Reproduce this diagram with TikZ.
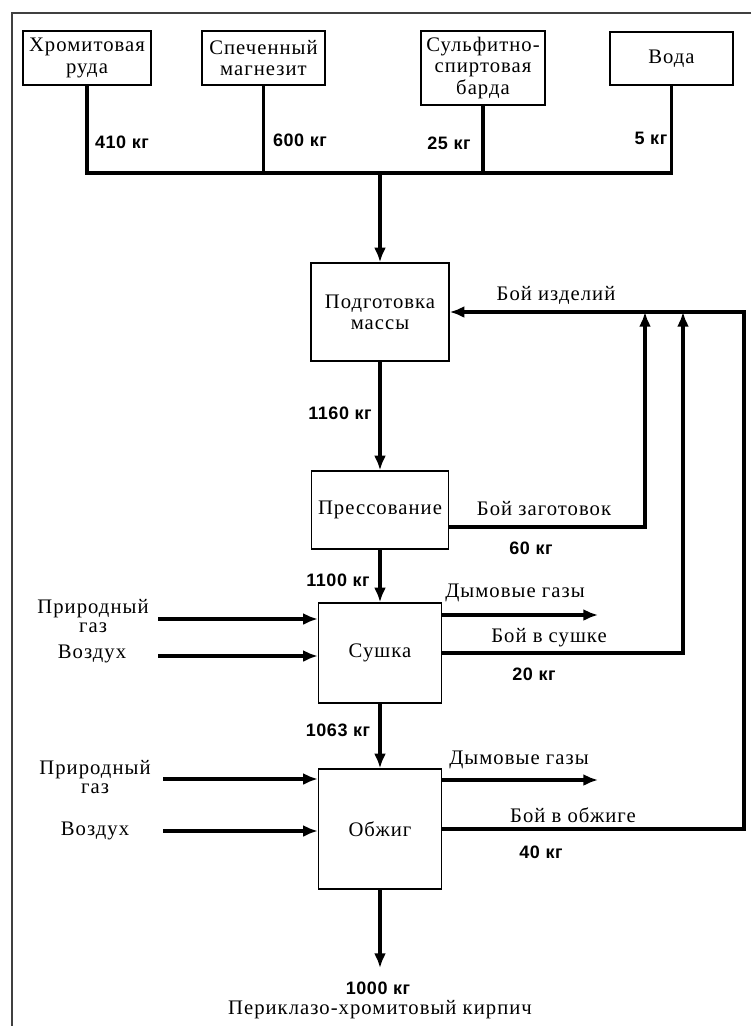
\documentclass[tikz,border=0pt]{standalone}
\usepackage{fontspec}
\setmainfont{Liberation Serif}[LetterSpace=5]
\newfontfamily\qtyfont{Liberation Sans}[LetterSpace=3]
\usetikzlibrary{arrows.meta}

\tikzset{
  box/.style={draw, line width=1.1pt, inner sep=0pt, align=center, font=\fontsize{15.5}{16}\selectfont},
  flow/.style={line width=2.5pt},
  arr/.style={flow, -{Latex[length=11pt,width=9pt]}},
  lbl/.style={inner sep=0pt, align=center, font=\fontsize{15.5}{14}\selectfont},
  qty/.style={inner sep=0pt, font=\qtyfont\fontsize{13.5}{14}\selectfont\bfseries},
}

\begin{document}
\begin{tikzpicture}[x=0.75pt, y=-0.75pt]
\useasboundingbox (0,0) rectangle (751,1026);
% frame
\draw[line width=1.6pt, black!75] (751,13) -- (12,13) -- (12,1026);

% raw materials
\node[box, minimum width=96pt, minimum height=40.5pt] (ore) at (87,58) {Хромитовая\\руда};
\node[box, minimum width=92.25pt, minimum height=40.5pt] (mag) at (263.5,58) {Спеченный\\магнезит};
\node[box, minimum width=93pt, minimum height=55.5pt] (sulf) at (483,68) {Сульфитно-\\спиртовая\\барда};
\node[box, minimum width=92.25pt, minimum height=39.75pt] (water) at (671.5,58.5) {Вода};

\node[qty] (qore) at (122,142) {410 кг};
\node[qty] (qmag) at (300,140) {600 кг};
\node[qty] (qsulf) at (449,143) {25 кг};
\node[qty] (qwater) at (651,138) {5 кг};

% collecting line
\coordinate (bus) at (380,173);
\draw[flow] (ore.south) |- (water.south |- bus) -- (water.south);
\draw[flow] (mag.south) -- (mag.south |- bus);
\draw[flow] (sulf.south) -- (sulf.south |- bus);

% process steps
\node[box, minimum width=103.5pt, minimum height=73.5pt] (prep) at (380,312) {Подготовка\\массы};
\node[box, minimum width=102.75pt, minimum height=58.5pt] (press) at (380,510) {Прессование};
\node[box, minimum width=92.25pt, minimum height=75pt] (dry) at (380,653) {Сушка};
\node[box, minimum width=92.25pt, minimum height=90pt] (fire) at (380,829) {Обжиг};

\draw[arr] (bus) -- (prep.north);
\draw[arr] (prep.south) -- (press.north);
\draw[arr] (press.south) -- (dry.north);
\draw[arr] (dry.south) -- (fire.north);
\coordinate (out) at (380,968);
\draw[arr] (fire.south) -- (out);

\node[qty] (qprep) at (340,413) {1160 кг};
\node[qty] (qpress) at (338,580) {1100 кг};
\node[qty] (qdry) at (338,730) {1063 кг};
\node[qty] (qout) at (378,988) {1000 кг};
\node[lbl] (brick) at (380,1010) {Периклазо-хромитовый кирпич};

% fuel and air
\coordinate (gas1) at (158,619);
\coordinate (air1) at (158,656);
\coordinate (gas2) at (163,779);
\coordinate (air2) at (163,831);
\draw[arr] (gas1) -- (gas1 -| dry.west);
\draw[arr] (air1) -- (air1 -| dry.west);
\draw[arr] (gas2) -- (gas2 -| fire.west);
\draw[arr] (air2) -- (air2 -| fire.west);
\node[lbl] (lgas1) at (93,616) {Природный\\газ};
\node[lbl] (lair1) at (92,654) {Воздух};
\node[lbl] (lgas2) at (95,777) {Природный\\газ};
\node[lbl] (lair2) at (95,831) {Воздух};

% flue gases
\coordinate (smoke1) at (598,615);
\coordinate (smoke2) at (598,780);
\draw[arr] (smoke1 -| dry.east) -- (smoke1);
\draw[arr] (smoke2 -| fire.east) -- (smoke2);
\node[lbl] (lsmoke1) at (515,593) {Дымовые газы};
\node[lbl] (lsmoke2) at (519,760) {Дымовые газы};

% scrap returns
\coordinate (r1) at (645,312);
\coordinate (r2) at (683,312);
\coordinate (r3) at (744,312);
\draw[arr] (fire.east) -| (r3) -- (prep.east);
\draw[arr] ([yshift=-12.75pt]press.east) -| (r1);
\draw[arr] (dry.east) -| (r2);

\node[lbl] (lret) at (556,295) {Бой изделий};
\node[lbl] (lpress) at (544,509) {Бой заготовок};
\node[qty] (qpr) at (531,548) {60 кг};
\node[lbl] (ldry) at (549,638) {Бой в сушке};
\node[qty] (qdr) at (534,674) {20 кг};
\node[lbl] (lfire) at (573,815) {Бой в обжиге};
\node[qty] (qfi) at (541,852) {40 кг};
\end{tikzpicture}
\end{document}
